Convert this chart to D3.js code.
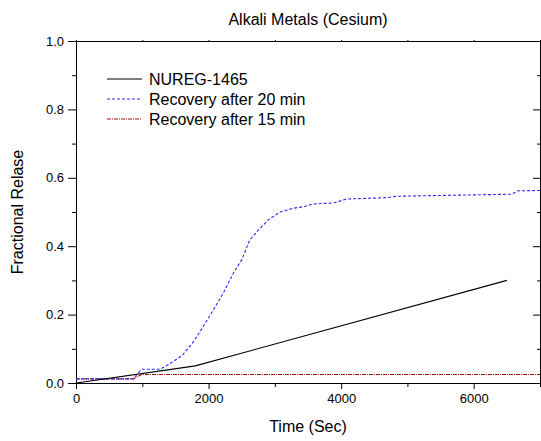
<!DOCTYPE html>
<meta charset="UTF-8">
<html>
<head>
	<title>Alkali Metals (Cesium)</title>
	<script src="https://d3js.org/d3.v7.min.js"></script>
	<style>
		body { margin: 0; background: #fff; }
		text { font-family: "Liberation Sans", Arial, sans-serif; fill: #000; }
		.axis path, .axis line { stroke: #000; stroke-width: 1; }
		.axis text { font-size: 13px; font-family: "Liberation Sans", Arial, sans-serif; }
	</style>
</head>
<body>
	<svg id="chart" width="541" height="441"></svg>

	<script>
		// series (time in s, fractional release)
		var nuregTime = [0, 1800, 6500];
		var nuregValue = [0, 0.05, 0.30];

		var rec20Time = [0, 860, 990, 1270, 1420, 1600, 1770, 1870, 2070, 2220, 2370, 2500, 2620, 2750, 2900, 3080, 3280, 3450, 3560, 3900, 4080, 4690, 4840, 5400, 6570, 6670, 7000];
		var rec20Value = [0.012, 0.012, 0.04, 0.04, 0.057, 0.08, 0.12, 0.15, 0.213, 0.262, 0.32, 0.36, 0.418, 0.447, 0.477, 0.5, 0.511, 0.516, 0.523, 0.527, 0.538, 0.542, 0.546, 0.548, 0.552, 0.562, 0.563];

		var rec15Time = [0, 860, 990, 7000];
		var rec15Value = [0.012, 0.012, 0.025, 0.025];

		var seriesNames = ["NUREG-1465", "Recovery after 20 min", "Recovery after 15 min"];

		var xMajor = [0, 2000, 4000, 6000];
		var xMinor = [1000, 3000, 5000, 7000];
		var yMajor = [0, 0.2, 0.4, 0.6, 0.8, 1.0];
		var yMinor = [0.1, 0.3, 0.5, 0.7, 0.9];

		var svg = d3.select("#chart");
		var pl = 76, pr = 540, pt = 41, pb = 383;

		var x = d3.scaleLinear()
			.domain([0, 7000])
			.range([pl, pr]);
		var y = d3.scaleLinear()
			.domain([0, 1])
			.range([pb, pt]);

		svg.append("clipPath")
			.attr("id", "plotclip")
			.append("rect")
			.attr("x", pl)
			.attr("y", pt)
			.attr("width", pr - pl)
			.attr("height", pb - pt);

		// axes: left/bottom ticks outward, right ticks inward, top tiny
		svg.append("g").attr("class", "axis")
			.attr("transform", "translate(0," + pb + ")")
			.call(d3.axisBottom(x).tickValues(xMajor).tickSize(6).tickSizeOuter(0).tickPadding(5).tickFormat(d3.format("d")));
		svg.append("g").attr("class", "axis")
			.attr("transform", "translate(0," + pb + ")")
			.call(d3.axisBottom(x).tickValues(xMinor).tickSize(4).tickSizeOuter(0).tickFormat(""));
		svg.append("g").attr("class", "axis")
			.attr("transform", "translate(0," + pt + ")")
			.call(d3.axisTop(x).tickValues(xMajor.concat(xMinor)).tickSize(1).tickSizeOuter(0).tickFormat(""));

		svg.append("g").attr("class", "axis")
			.attr("transform", "translate(" + pl + ",0)")
			.call(d3.axisLeft(y).tickValues(yMajor).tickSize(8).tickSizeOuter(0).tickPadding(4).tickFormat(d3.format(".1f")));
		svg.append("g").attr("class", "axis")
			.attr("transform", "translate(" + pl + ",0)")
			.call(d3.axisLeft(y).tickValues(yMinor).tickSize(4).tickSizeOuter(0).tickFormat(""));
		svg.append("g").attr("class", "axis")
			.attr("transform", "translate(" + pr + ",0)")
			.call(d3.axisLeft(y).tickValues(yMajor).tickSize(7).tickSizeOuter(0).tickFormat(""));
		svg.append("g").attr("class", "axis")
			.attr("transform", "translate(" + pr + ",0)")
			.call(d3.axisLeft(y).tickValues(yMinor).tickSize(3).tickSizeOuter(0).tickFormat(""));

		var line = d3.line()
			.x(function(d){ return x(d[0]); })
			.y(function(d){ return y(d[1]); });

		var series = [
			{name: seriesNames[0], data: d3.zip(nuregTime, nuregValue), color: "#000", dash: null},
			{name: seriesNames[1], data: d3.zip(rec20Time, rec20Value), color: "#2a2aff", dash: "3,2"},
			{name: seriesNames[2], data: d3.zip(rec15Time, rec15Value), color: "#a01010", dash: "4,1,1,1"}
		];

		svg.append("g")
			.attr("clip-path", "url(#plotclip)")
			.selectAll("path")
			.data(series.slice().reverse())
			.enter()
			.append("path")
				.attr("d", function(d){ return line(d.data); })
				.attr("fill", "none")
				.attr("stroke", function(d){ return d.color; })
				.attr("stroke-width", 1.1)
				.attr("stroke-dasharray", function(d){ return d.dash; });

		// legend
		var legend = svg.append("g")
			.selectAll("g")
			.data(series)
			.enter()
			.append("g")
				.attr("transform", function(d, i){ return "translate(107," + (79 + i*20) + ")"; });
		legend.append("line")
			.attr("x1", 0).attr("x2", 35)
			.attr("stroke", function(d){ return d.color; })
			.attr("stroke-width", 1.1)
			.attr("stroke-dasharray", function(d){ return d.dash; });
		legend.append("text")
			.attr("x", 42)
			.attr("y", 6)
			.style("font-size", "16px")
			.text(function(d){ return d.name; });

		// titles
		svg.append("text")
			.attr("x", (pl + pr)/2)
			.attr("y", 25)
			.attr("text-anchor", "middle")
			.style("font-size", "16px")
			.text("Alkali Metals (Cesium)");
		svg.append("text")
			.attr("x", (pl + pr)/2)
			.attr("y", 432)
			.attr("text-anchor", "middle")
			.style("font-size", "16px")
			.text("Time (Sec)");
		svg.append("text")
			.attr("transform", "translate(23," + (pt + pb)/2 + ") rotate(-90)")
			.attr("text-anchor", "middle")
			.style("font-size", "16px")
			.text("Fractional Relase");
	</script>
</body>
</html>
